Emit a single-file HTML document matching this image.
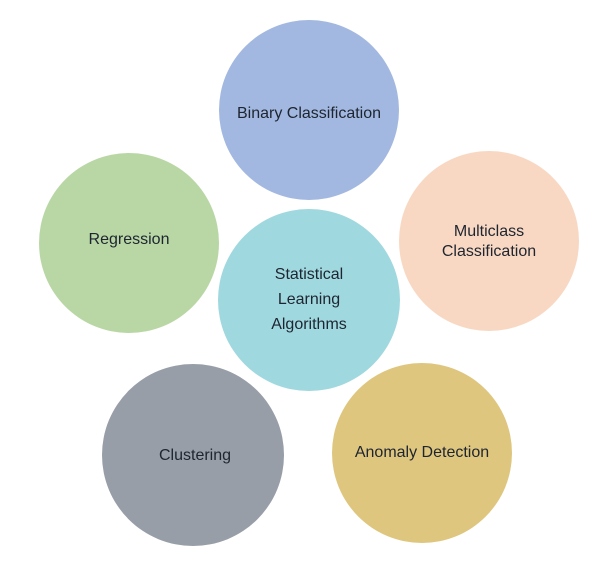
<!DOCTYPE html>
<html><head><meta charset="utf-8"><style>
html,body{margin:0;padding:0;background:#fff;}
svg{display:block}
text{font-family:"Liberation Sans",sans-serif;font-size:16px;fill:#1e2530;text-anchor:middle}
</style></head><body>
<svg width="614" height="566" viewBox="0 0 614 566">
<circle cx="309" cy="110" r="90" fill="#a2b8e0"/>
<circle cx="129" cy="243" r="90" fill="#b9d7a5"/>
<circle cx="489" cy="241" r="90" fill="#f8d8c2"/>
<circle cx="309" cy="300" r="91" fill="#a0d8df"/>
<circle cx="193" cy="455" r="91" fill="#979ea7"/>
<circle cx="422" cy="453" r="90" fill="#dfc67f"/>
<text x="309" y="118">Binary Classification</text>
<text x="129" y="244">Regression</text>
<text x="489" y="236">Multiclass</text>
<text x="489" y="256">Classification</text>
<text x="309" y="279">Statistical</text>
<text x="309" y="304">Learning</text>
<text x="309" y="329">Algorithms</text>
<text x="195" y="460">Clustering</text>
<text x="422" y="457">Anomaly Detection</text>
</svg>
</body></html>
